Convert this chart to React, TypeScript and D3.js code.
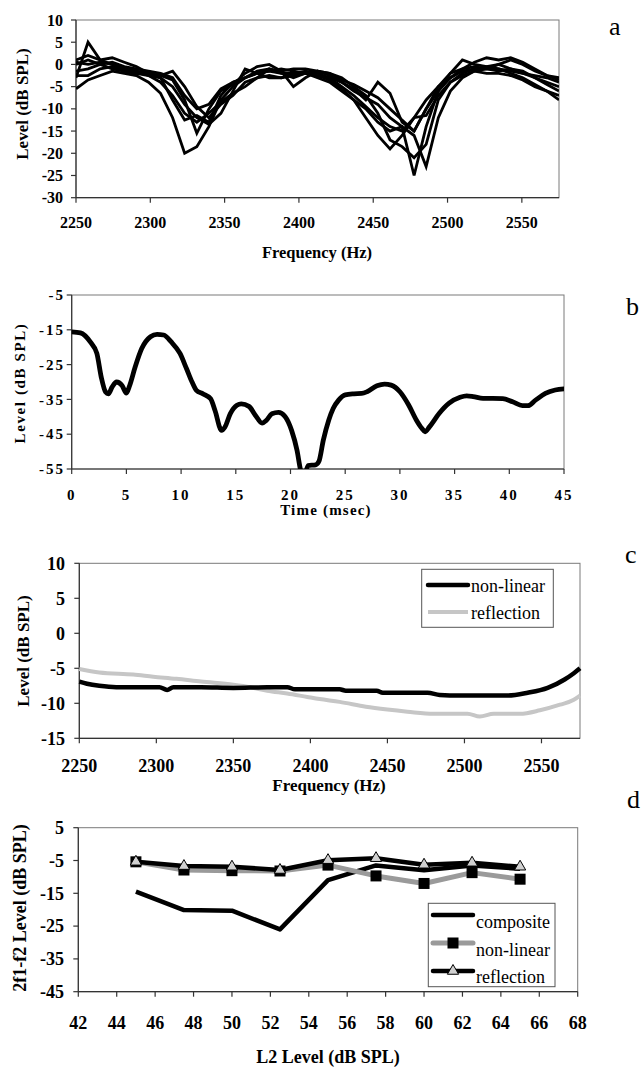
import React from "react";
import * as d3 from "d3";

// ---------- Panel a data ----------
const freqA = [2250,2258.1,2266.3,2274.4,2282.5,2290.6,2298.8,2306.9,2315,2323.1,2331.3,2339.4,2347.5,2355.6,2363.8,2371.9,2380,2388.1,2396.3,2404.4,2412.5,2420.6,2428.8,2436.9,2445,2453.1,2461.3,2469.4,2477.5,2485.6,2493.8,2501.9,2510,2518.1,2526.3,2534.4,2542.5,2550.6,2558.8,2566.9,2575];
const runA1 = [-5.5,-3.5,-2.5,-1.5,-2,-2.5,-4,-6.5,-12,-20,-18.5,-14,-8,-5,-3,-2,-1.5,-1,-1.5,-2,-2.5,-3.5,-5.5,-8,-12,-16,-19,-16,-12,-8,-5,-3,-1.5,-1,-0.5,-1,-2,-3,-4.5,-6,-8];
const runA2 = [-3,5,1,0,-1,-1.5,-2,-3,-8,-12.5,-11.5,-13,-7,-4,-3,-2,-1.5,-2,-2,-2,-3,-4,-6,-8,-10,-13,-15,-14,-25,-14,-6,-2,1,0,-0.5,0,-1,-2,-3,-4,-5];
const runA3 = [1,2,1,1.5,0.5,-0.5,-2,-2.5,-3.5,-8,-15.5,-10,-6,-4.5,-2,-0.5,0,-1.5,-5,-3,-1.5,-2.5,-4,-5.5,-8,-4,-6.5,-13,-15,-10,-6,-3,-1,0.5,1.5,1,1.5,0.5,-1,-2.5,-3.5];
const runA4 = [0,1,0,-1,-1.5,-2,-2,-2.5,-1.5,-5,-9.5,-12,-9,-7,-4,-3,-2.5,-3,-2,-1.5,-2,-3,-4,-6,-7.5,-9,-12,-14,-16,-23,-12,-6,-3,-1.5,-1,0,1,0,-1.5,-2.5,-3];
const runA5 = [-2.5,-2.5,-1,-0.5,-1.5,-2,-2.5,-3,-5,-9,-12,-13.5,-11,-6,-1,-2,-3,-3,-2.5,-2,-2.5,-3,-5,-7,-9.5,-12,-14,-15,-12,-11.5,-7,-4,-2.5,-1.5,-2,-2,-2.5,-3.5,-5,-6,-7];
const runA6 = [0.5,0,0.5,0,-1,-1.5,-2.5,-4,-7,-11,-13,-11,-8.5,-6.5,-5,-3,-1,-2,-3,-2,-1.5,-2,-3,-5,-7,-11,-17,-18.5,-21,-18,-8,-4,-2,-1,-1,-1.5,-1,-1.5,-3,-4.5,-6];
const runA7 = [-1.5,-1,0,0.5,-0.5,-1,-1.5,-2,-3,-7,-10,-9,-5.5,-4,-3,-1.5,-1,-1.5,-1,-1,-1.5,-2,-3.5,-4.5,-6,-7.5,-10,-12.5,-15,-10,-5,-2,-1,-0.5,-1,-1,-1.5,-2,-2.5,-3,-4];
const runsA = [runA1, runA2, runA3, runA4, runA5, runA6, runA7];
const freqTicks = [2250, 2300, 2350, 2400, 2450, 2500, 2550];
const yTicksA = [10, 5, 0, -5, -10, -15, -20, -25, -30];

// ---------- Panel b data ----------
const timeB = [0,0.8,1.7,2.3,2.7,3.1,3.35,3.7,4.1,4.6,5.0,5.3,5.8,6.4,7.2,7.8,8.4,9.1,9.9,10.5,11.0,11.4,12.0,12.7,13.1,13.7,14.0,14.5,15.1,15.5,16.2,16.8,17.4,17.8,18.3,18.9,19.5,20.1,20.6,20.9,21.2,21.6,22.3,22.6,23.0,23.5,23.9,24.4,25.0,25.8,26.5,27.0,27.9,28.6,29.2,30.0,30.8,31.5,32.0,32.3,32.7,33.6,34.5,35.5,36.1,36.7,37.6,38.5,39.4,40.3,41.2,41.7,42.4,43.3,44.2,45];
const levelB = [-15.6,-15.9,-18.5,-21.8,-28.6,-32.9,-33.4,-31.4,-30,-31,-33.2,-31,-25.7,-20.4,-17,-16.3,-16.5,-18.5,-21.8,-26.2,-30,-32.4,-33.4,-34.8,-38.2,-43.9,-43,-39.1,-36.7,-36.3,-37,-39.6,-41.8,-41,-39.1,-38.7,-39.9,-43.9,-49.7,-55,-58,-54,-53.8,-52.8,-46.7,-40.9,-37.6,-35.2,-33.7,-33.4,-33.3,-32.8,-31.1,-30.6,-30.9,-32.8,-36.6,-40.9,-43.3,-44.3,-42.9,-39,-36.1,-34.4,-34,-34.2,-34.7,-34.7,-34.8,-35.7,-36.8,-36.8,-35.2,-33.3,-32.3,-32.0];
const timeTicks = [0, 5, 10, 15, 20, 25, 30, 35, 40, 45];
const yTicksB = [-5, -15, -25, -35, -45, -55];

// ---------- Panel c data ----------
const freqNL = [2250,2255,2263,2274,2285,2302,2307,2311,2329,2350,2372,2385,2390,2419,2423,2443,2447,2463,2476,2484,2497,2528,2541,2554,2565,2571,2575];
const levelNL = [-6.9,-7.2,-7.5,-7.7,-7.7,-7.7,-8.1,-7.7,-7.7,-7.8,-7.7,-7.7,-8,-8,-8.2,-8.2,-8.5,-8.5,-8.5,-8.8,-8.9,-8.9,-8.5,-7.8,-6.6,-5.7,-5.0];
const freqRF = [2250,2263,2285,2298,2313,2329,2350,2361,2372,2385,2398,2406,2419,2436,2450,2463,2480,2502,2510,2519,2536,2549,2562,2571,2575];
const levelRF = [-5.1,-5.6,-5.9,-6.2,-6.5,-6.9,-7.35,-7.7,-8.2,-8.6,-9.1,-9.4,-9.8,-10.5,-10.9,-11.2,-11.5,-11.5,-11.9,-11.5,-11.5,-11,-10.2,-9.5,-8.9];
const yTicksC = [10, 5, 0, -5, -10, -15];
const legendC = ["non-linear", "reflection"];

// ---------- Panel d data ----------
const l2Levels = [45, 47.5, 50, 52.5, 55, 57.5, 60, 62.5, 65];
const compositeD = [-14.5, -20.1, -20.3, -26, -11, -6.5, -8, -6.5, -7.5];
const nonlinearD = [-5.4, -7.9, -8.1, -8.2, -6.4, -9.7, -12, -8.7, -10.7];
const reflectionD = [-5.4, -6.7, -6.9, -7.9, -4.9, -4.3, -6.3, -5.7, -6.9];
const xTicksD = [42, 44, 46, 48, 50, 52, 54, 56, 58, 60, 62, 64, 66, 68];
const yTicksD = [5, -5, -15, -25, -35, -45];
const legendD = ["composite", "non-linear", "reflection"];

const SERIF = "'Times New Roman', 'Liberation Serif', serif";
const FRAME = "#7a7a7a";

type AxisProps = {
  x: d3.ScaleLinear<number, number>;
  y: d3.ScaleLinear<number, number>;
  xTicks: number[];
  yTicks: number[];
  fs: number;
  xLabelY: number;
  yLabelX: number;
  ls?: number;
};

function Axes({ x, y, xTicks, yTicks, fs, xLabelY, yLabelX, ls = 0 }: AxisProps) {
  const [x0, x1] = x.range();
  const [y0, y1] = y.range();
  return (
    <g>
      <rect x={x0} y={y1} width={x1 - x0} height={y0 - y1} fill="none" stroke={FRAME} strokeWidth={1} />
      <line x1={x0} x2={x1} y1={y0} y2={y0} stroke="#333" strokeWidth={1.2} />
      <line x1={x0} x2={x0} y1={y0} y2={y1} stroke="#333" strokeWidth={1.2} />
      {xTicks.map((t) => (
        <g key={"x" + t}>
          <line x1={x(t)} x2={x(t)} y1={y0} y2={y0 + 5} stroke="#333" strokeWidth={1.2} />
          <text x={x(t)} y={xLabelY} textAnchor="middle" fontFamily={SERIF} fontWeight="bold" fontSize={fs} letterSpacing={ls}>
            {t}
          </text>
        </g>
      ))}
      {yTicks.map((t) => (
        <g key={"y" + t}>
          <line x1={x0 - 5} x2={x0} y1={y(t)} y2={y(t)} stroke="#333" strokeWidth={1.2} />
          <text x={yLabelX} y={y(t)} dy="0.35em" textAnchor="end" fontFamily={SERIF} fontWeight="bold" fontSize={fs} letterSpacing={ls}>
            {t}
          </text>
        </g>
      ))}
    </g>
  );
}

function YTitle({ x, y, text, fs, ls = 0 }: { x: number; y: number; text: string; fs: number; ls?: number }) {
  return (
    <text transform={`translate(${x},${y}) rotate(-90)`} dy="0.35em" textAnchor="middle" fontFamily={SERIF} fontWeight="bold" fontSize={fs} letterSpacing={ls}>
      {text}
    </text>
  );
}

export default function App() {
  // Panel a
  const xa = d3.scaleLinear().domain([2250, 2575]).range([76, 559]);
  const ya = d3.scaleLinear().domain([-30, 10]).range([197.7, 20]);
  const lineA = d3.line<number>().x((_, i) => xa(freqA[i])).y((v) => ya(v));

  // Panel b
  const xb = d3.scaleLinear().domain([0, 45]).range([71.7, 564]);
  const yb = d3.scaleLinear().domain([-55, -5]).range([469, 295]);
  const lineB = d3.line<number>().x((_, i) => xb(timeB[i])).y((v) => yb(v)).curve(d3.curveMonotoneX);

  // Panel c
  const xc = d3.scaleLinear().domain([2250, 2575]).range([79.3, 580]);
  const yc = d3.scaleLinear().domain([-15, 10]).range([738.3, 563.3]);
  const lineCNL = d3.line<number>().x((_, i) => xc(freqNL[i])).y((v) => yc(v)).curve(d3.curveMonotoneX);
  const lineCRF = d3.line<number>().x((_, i) => xc(freqRF[i])).y((v) => yc(v)).curve(d3.curveMonotoneX);

  // Panel d
  const xd = d3.scaleLinear().domain([42, 68]).range([78.3, 577.7]);
  const yd = d3.scaleLinear().domain([-45, 5]).range([991.7, 827.7]);
  const lineD = d3.line<number>().x((_, i) => xd(l2Levels[i])).y((v) => yd(v));
  const tri = d3.symbol().type(d3.symbolTriangle).size(55)();

  const legCx0 = 428;
  const legCx1 = 468;
  const legDx0 = 433;
  const legDx1 = 473;
  const legDy = [915, 943, 971];

  return (
    <div style={{ position: "absolute", left: 0, top: 0 }}>
      <svg width={643} height={1068} style={{ display: "block", background: "#fff" }}>
        <defs>
          <clipPath id="clipA">
            <rect x={76} y={20} width={483} height={177.7} />
          </clipPath>
          <clipPath id="clipB">
            <rect x={71.7} y={290} width={492.3} height={179} />
          </clipPath>
        </defs>

        {/* Panel a */}
        <Axes x={xa} y={ya} xTicks={freqTicks} yTicks={yTicksA} fs={16} xLabelY={228} yLabelX={63} />
        <g clipPath="url(#clipA)">
          {runsA.map((r, i) => (
            <path key={i} d={lineA(r) || ""} fill="none" stroke="#000" strokeWidth={2.8} strokeLinejoin="miter" />
          ))}
        </g>
        <text x={317} y={258} textAnchor="middle" fontFamily={SERIF} fontWeight="bold" fontSize={16.5}>Frequency (Hz)</text>
        <YTitle x={22} y={104} text="Level (dB SPL)" fs={17} />
        <text x={609} y={35} fontFamily={SERIF} fontSize={26}>a</text>

        {/* Panel b */}
        <Axes x={xb} y={yb} xTicks={timeTicks} yTicks={yTicksB} fs={15} xLabelY={500} yLabelX={65} ls={2} />
        <g clipPath="url(#clipB)">
          <path d={lineB(levelB) || ""} fill="none" stroke="#000" strokeWidth={4.8} strokeLinejoin="round" strokeLinecap="round" />
        </g>
        <text x={326} y={515} textAnchor="middle" fontFamily={SERIF} fontWeight="bold" fontSize={15} letterSpacing={1.2}>Time (msec)</text>
        <YTitle x={20} y={383} text="Level (dB SPL)" fs={15} ls={1.6} />
        <text x={626} y={315} fontFamily={SERIF} fontSize={26}>b</text>

        {/* Panel c */}
        <Axes x={xc} y={yc} xTicks={freqTicks} yTicks={yTicksC} fs={18} xLabelY={772} yLabelX={65} />
        <path d={lineCRF(levelRF) || ""} fill="none" stroke="#c6c6c6" strokeWidth={4} />
        <path d={lineCNL(levelNL) || ""} fill="none" stroke="#000" strokeWidth={4.5} />
        <text x={329} y={791} textAnchor="middle" fontFamily={SERIF} fontWeight="bold" fontSize={17}>Frequency (Hz)</text>
        <YTitle x={23} y={651} text="Level (dB SPL)" fs={17} />
        <text x={625} y={563} fontFamily={SERIF} fontSize={26}>c</text>
        <rect x={421.7} y={569.3} width={131.6} height={58} fill="#fff" stroke="#555" strokeWidth={1} />
        <line x1={legCx0} x2={legCx1} y1={585} y2={585} stroke="#000" strokeWidth={4.5} strokeLinecap="round" />
        <line x1={legCx0} x2={legCx1} y1={612} y2={612} stroke="#c6c6c6" strokeWidth={4} />
        {legendC.map((s, i) => (
          <text key={s} x={471} y={591.5 + i * 27.5} fontFamily={SERIF} fontSize={18}>{s}</text>
        ))}

        {/* Panel d */}
        <Axes x={xd} y={yd} xTicks={xTicksD} yTicks={yTicksD} fs={18} xLabelY={1029} yLabelX={64} />
        <path d={lineD(compositeD) || ""} fill="none" stroke="#000" strokeWidth={4.5} strokeLinejoin="round" />
        <path d={lineD(nonlinearD) || ""} fill="none" stroke="#9a9a9a" strokeWidth={5} strokeLinejoin="round" />
        <path d={lineD(reflectionD) || ""} fill="none" stroke="#000" strokeWidth={4.5} strokeLinejoin="round" />
        {nonlinearD.map((v, i) => (
          <rect key={"sq" + i} x={xd(l2Levels[i]) - 5.5} y={yd(v) - 5.5} width={11} height={11} fill="#000" />
        ))}
        {reflectionD.map((v, i) => (
          <path key={"tr" + i} d={tri || ""} transform={`translate(${xd(l2Levels[i])},${yd(v)})`} fill="#d0d0d0" stroke="#000" strokeWidth={1} />
        ))}
        <text x={328} y={1063} textAnchor="middle" fontFamily={SERIF} fontWeight="bold" fontSize={18}>L2 Level (dB SPL)</text>
        <YTitle x={20} y={908} text="2f1-f2 Level (dB SPL)" fs={18} />
        <text x={627} y={808} fontFamily={SERIF} fontSize={26}>d</text>
        <rect x={428.3} y={903.3} width={126.7} height={83.4} fill="#fff" stroke="#555" strokeWidth={1} />
        <line x1={legDx0} x2={legDx1} y1={legDy[0]} y2={legDy[0]} stroke="#000" strokeWidth={4.5} strokeLinecap="round" />
        <line x1={legDx0} x2={legDx1} y1={legDy[1]} y2={legDy[1]} stroke="#9a9a9a" strokeWidth={5} strokeLinecap="round" />
        <rect x={(legDx0 + legDx1) / 2 - 5.5} y={legDy[1] - 5.5} width={11} height={11} fill="#000" />
        <line x1={legDx0} x2={legDx1} y1={legDy[2]} y2={legDy[2]} stroke="#000" strokeWidth={4.5} strokeLinecap="round" />
        <path d={tri || ""} transform={`translate(${(legDx0 + legDx1) / 2},${legDy[2]})`} fill="#d0d0d0" stroke="#000" strokeWidth={1} />
        {legendD.map((s, i) => (
          <text key={s} x={476} y={928 + i * 27.5} fontFamily={SERIF} fontSize={18}>{s}</text>
        ))}
      </svg>
    </div>
  );
}
